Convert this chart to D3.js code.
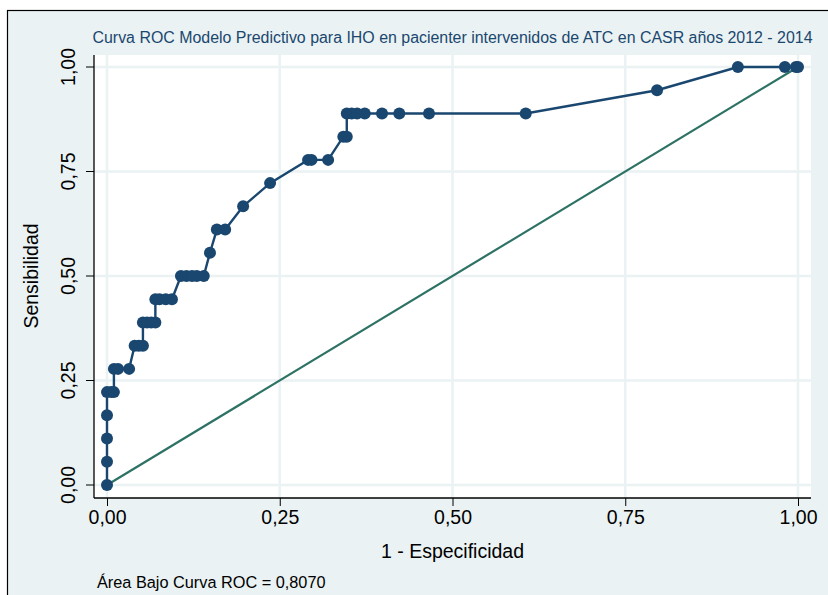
<!DOCTYPE html>
<html>
<head>
<meta charset="utf-8">
<script src="https://cdn.jsdelivr.net/npm/d3@7"></script>
<style>
  body { margin: 0; background: #fff; }
  text { font-family: "Liberation Sans", Arial, sans-serif; }
</style>
</head>
<body>
<script>
// 1 - especificidad / sensibilidad
let fpr = [0, 0, 0, 0, 0, 0.006, 0.010, 0.010, 0.016, 0.032,
  0.040, 0.046, 0.052, 0.052, 0.058, 0.064, 0.070, 0.070, 0.076, 0.085,
  0.094, 0.107, 0.115, 0.123, 0.130, 0.140, 0.149, 0.159, 0.171, 0.197,
  0.236, 0.291, 0.296, 0.320, 0.342, 0.347, 0.347, 0.354, 0.362, 0.373,
  0.398, 0.423, 0.466, 0.606, 0.796, 0.913, 0.981, 0.997, 1];
let sens = [0, 0.0556, 0.1111, 0.1667, 0.2222, 0.2222, 0.2222, 0.2778, 0.2778, 0.2778,
  0.3333, 0.3333, 0.3333, 0.3889, 0.3889, 0.3889, 0.3889, 0.4444, 0.4444, 0.4444,
  0.4444, 0.5, 0.5, 0.5, 0.5, 0.5, 0.5556, 0.6111, 0.6111, 0.6667,
  0.7222, 0.7778, 0.7778, 0.7778, 0.8333, 0.8333, 0.8889, 0.8889, 0.8889, 0.8889,
  0.8889, 0.8889, 0.8889, 0.8889, 0.9444, 1, 1, 1, 1];
let ref_line = [[0, 0], [1, 1]];
let ticks = [0, 0.25, 0.5, 0.75, 1];
let tick_labels = ["0,00", "0,25", "0,50", "0,75", "1,00"];

let title = "Curva ROC Modelo Predictivo para IHO en pacienter intervenidos de ATC en CASR años 2012 - 2014";
let x_title = "1 - Especificidad";
let y_title = "Sensibilidad";
let note = "Área Bajo Curva ROC = 0,8070";

let width = 828, height = 595;
let plot = { left: 94, top: 55, right: 811, bottom: 498 };
let navy = "#1a476f", teal = "#2e7265", bg = "#eaf2f3";

let svg = d3.select("body").append("svg")
  .attr("width", width)
  .attr("height", height);

// outer frame
svg.append("rect").attr("x", 7.5).attr("y", 10.5)
  .attr("width", width + 10).attr("height", height + 10)
  .attr("fill", bg).attr("stroke", "#000").attr("stroke-width", 1.2);

svg.append("rect").attr("x", plot.left).attr("y", plot.top)
  .attr("width", plot.right - plot.left).attr("height", plot.bottom - plot.top)
  .attr("fill", "#fff");

let x = d3.scaleLinear().domain([0, 1]).range([107, 798]);
let y = d3.scaleLinear().domain([0, 1]).range([485, 67]);

// grid
svg.append("g").selectAll("line").data(ticks).join("line")
  .attr("x1", d => x(d)).attr("x2", d => x(d))
  .attr("y1", plot.top).attr("y2", plot.bottom)
  .attr("stroke", bg).attr("stroke-width", 2.5);
svg.append("g").selectAll("line").data(ticks).join("line")
  .attr("x1", plot.left).attr("x2", plot.right)
  .attr("y1", d => y(d)).attr("y2", d => y(d))
  .attr("stroke", bg).attr("stroke-width", 2.5);

// axes
let fmt = d => tick_labels[ticks.indexOf(d)];
let ax_x = svg.append("g").attr("transform", `translate(0,${plot.bottom})`)
  .call(d3.axisBottom(x).tickValues(ticks).tickFormat(fmt).tickSize(8).tickPadding(6));
let ax_y = svg.append("g").attr("transform", `translate(${plot.left},0)`)
  .call(d3.axisLeft(y).tickValues(ticks).tickFormat(fmt).tickSize(8));
[ax_x, ax_y].forEach(a => {
  a.select(".domain").remove();
  a.selectAll("line").attr("stroke", "#000").attr("stroke-width", 1);
  a.selectAll("text").attr("font-size", 19.5).attr("fill", "#000")
    .attr("font-family", "Liberation Sans, Arial, sans-serif");
});
ax_x.selectAll("text").attr("y", 12);
ax_y.selectAll("text")
  .attr("x", null).attr("dy", null)
  .attr("text-anchor", "middle")
  .attr("transform", d => `translate(-19,${y(d)}) rotate(-90)`)
  .attr("y", 0);
ax_y.selectAll(".tick").attr("transform", null);
ax_y.selectAll(".tick line").attr("y1", d => y(d)).attr("y2", d => y(d));

svg.append("line").attr("x1", plot.left).attr("x2", plot.right)
  .attr("y1", plot.bottom).attr("y2", plot.bottom).attr("stroke", "#000").attr("stroke-width", 1.3);
svg.append("line").attr("x1", plot.left).attr("x2", plot.left)
  .attr("y1", plot.top).attr("y2", plot.bottom).attr("stroke", "#000").attr("stroke-width", 1.3);

// reference diagonal
svg.append("path").datum(ref_line)
  .attr("d", d3.line().x(d => x(d[0])).y(d => y(d[1])))
  .attr("fill", "none").attr("stroke", teal).attr("stroke-width", 2.2);

// ROC curve
let pts = fpr.map((f, i) => [f, sens[i]]);
svg.append("path").datum(pts)
  .attr("d", d3.line().x(d => x(d[0])).y(d => y(d[1])))
  .attr("fill", "none").attr("stroke", navy).attr("stroke-width", 2.4);
svg.append("g").selectAll("circle").data(pts).join("circle")
  .attr("cx", d => x(d[0])).attr("cy", d => y(d[1])).attr("r", 6)
  .attr("fill", navy);

// texts
svg.append("text").text(title)
  .attr("x", (plot.left + plot.right) / 2).attr("y", 43)
  .attr("text-anchor", "middle").attr("font-size", 16).attr("fill", navy)
  .attr("textLength", 720).attr("lengthAdjust", "spacingAndGlyphs");
svg.append("text").text(x_title)
  .attr("x", (plot.left + plot.right) / 2).attr("y", 558)
  .attr("text-anchor", "middle").attr("font-size", 19.5).attr("fill", "#000");
svg.append("text").text(y_title)
  .attr("transform", `translate(38,${y(0.5)}) rotate(-90)`)
  .attr("text-anchor", "middle").attr("font-size", 19.5).attr("fill", "#000");
svg.append("text").text(note)
  .attr("x", 97).attr("y", 588)
  .attr("font-size", 16.3).attr("fill", "#000");
</script>
</body>
</html>
